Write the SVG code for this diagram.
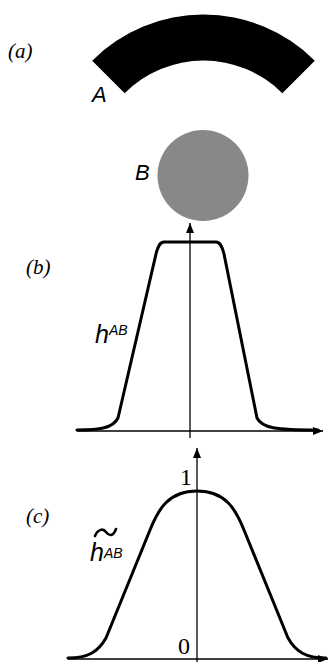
<svg xmlns="http://www.w3.org/2000/svg" width="333" height="662" viewBox="0 0 333 662">
<style>
.sans{font-family:"Liberation Sans",Arial,sans-serif;font-style:italic;fill:#000}
.serif{font-family:"Liberation Serif","Times New Roman",serif;fill:#000}
.it{font-style:italic}
.axis{stroke:#000;stroke-width:1.3;fill:none}
.curve{stroke:#000;stroke-width:3;fill:none;stroke-linejoin:round;stroke-linecap:round}
</style>
<defs>
<marker id="arr" viewBox="0 0 10 8" refX="10" refY="4" markerWidth="10" markerHeight="8" markerUnits="userSpaceOnUse" orient="auto">
<path d="M0,0 L10,4 L0,8 Z" fill="#000"/>
</marker>
</defs>
<rect width="333" height="662" fill="#fff"/>
<g id="panel-a">
<text class="serif it" x="8" y="58" font-size="21">(a)</text>
<path id="shape-A" d="M92.2,60.7 A157.4,157.4 0 0 1 314.8,60.7 L282.3,93.2 A111.4,111.4 0 0 0 124.7,93.2 Z" fill="#000"/>
<text class="sans" x="92" y="102" font-size="22">A</text>
<circle id="shape-B" cx="203" cy="175.5" r="45.5" fill="#888"/>
<text class="sans" x="135" y="180" font-size="22">B</text>
</g>
<g id="panel-b">
<text class="serif it" x="26" y="274" font-size="21">(b)</text>
<g id="axes-b">
<line class="axis" x1="77" y1="431" x2="323" y2="431" marker-end="url(#arr)"/>
<line class="axis" x1="190" y1="438" x2="190" y2="223" marker-end="url(#arr)"/>
</g>
<path class="curve" d="M77,430 C100,430 113,428 118,418 L156,254 C158,246 160,242 164,242 L216,242 C220,242 222,246 224,254 L257,418 C262,428 275,430 318,430"/>
<text class="sans" x="95" y="343" font-size="25">h<tspan font-size="14" dy="-8">AB</tspan></text>
</g>
<g id="panel-c">
<text class="serif it" x="26" y="523" font-size="21">(c)</text>
<g id="axes-c">
<line class="axis" x1="68" y1="659" x2="328" y2="659" marker-end="url(#arr)"/>
<line class="axis" x1="197" y1="662" x2="197" y2="448" marker-end="url(#arr)"/>
</g>
<path class="curve" d="M68,658 C88,658 98,652 106,638 L150,530 C158,510 168,491 197,491 C226,491 236,510 244,530 L288,638 C296,652 306,658 326,658"/>
<text class="serif" x="180" y="485" font-size="24">1</text>
<text class="serif" x="178" y="654" font-size="24">0</text>
<text class="sans" x="90" y="561" font-size="25">h<tspan font-size="14" dy="-3">AB</tspan></text>
<path id="widetilde" d="M95,536 C98,529 103,528 106,532 C109,536 113,537 116,529" fill="none" stroke="#000" stroke-width="2.6" stroke-linecap="round"/>
</g>
</svg>
